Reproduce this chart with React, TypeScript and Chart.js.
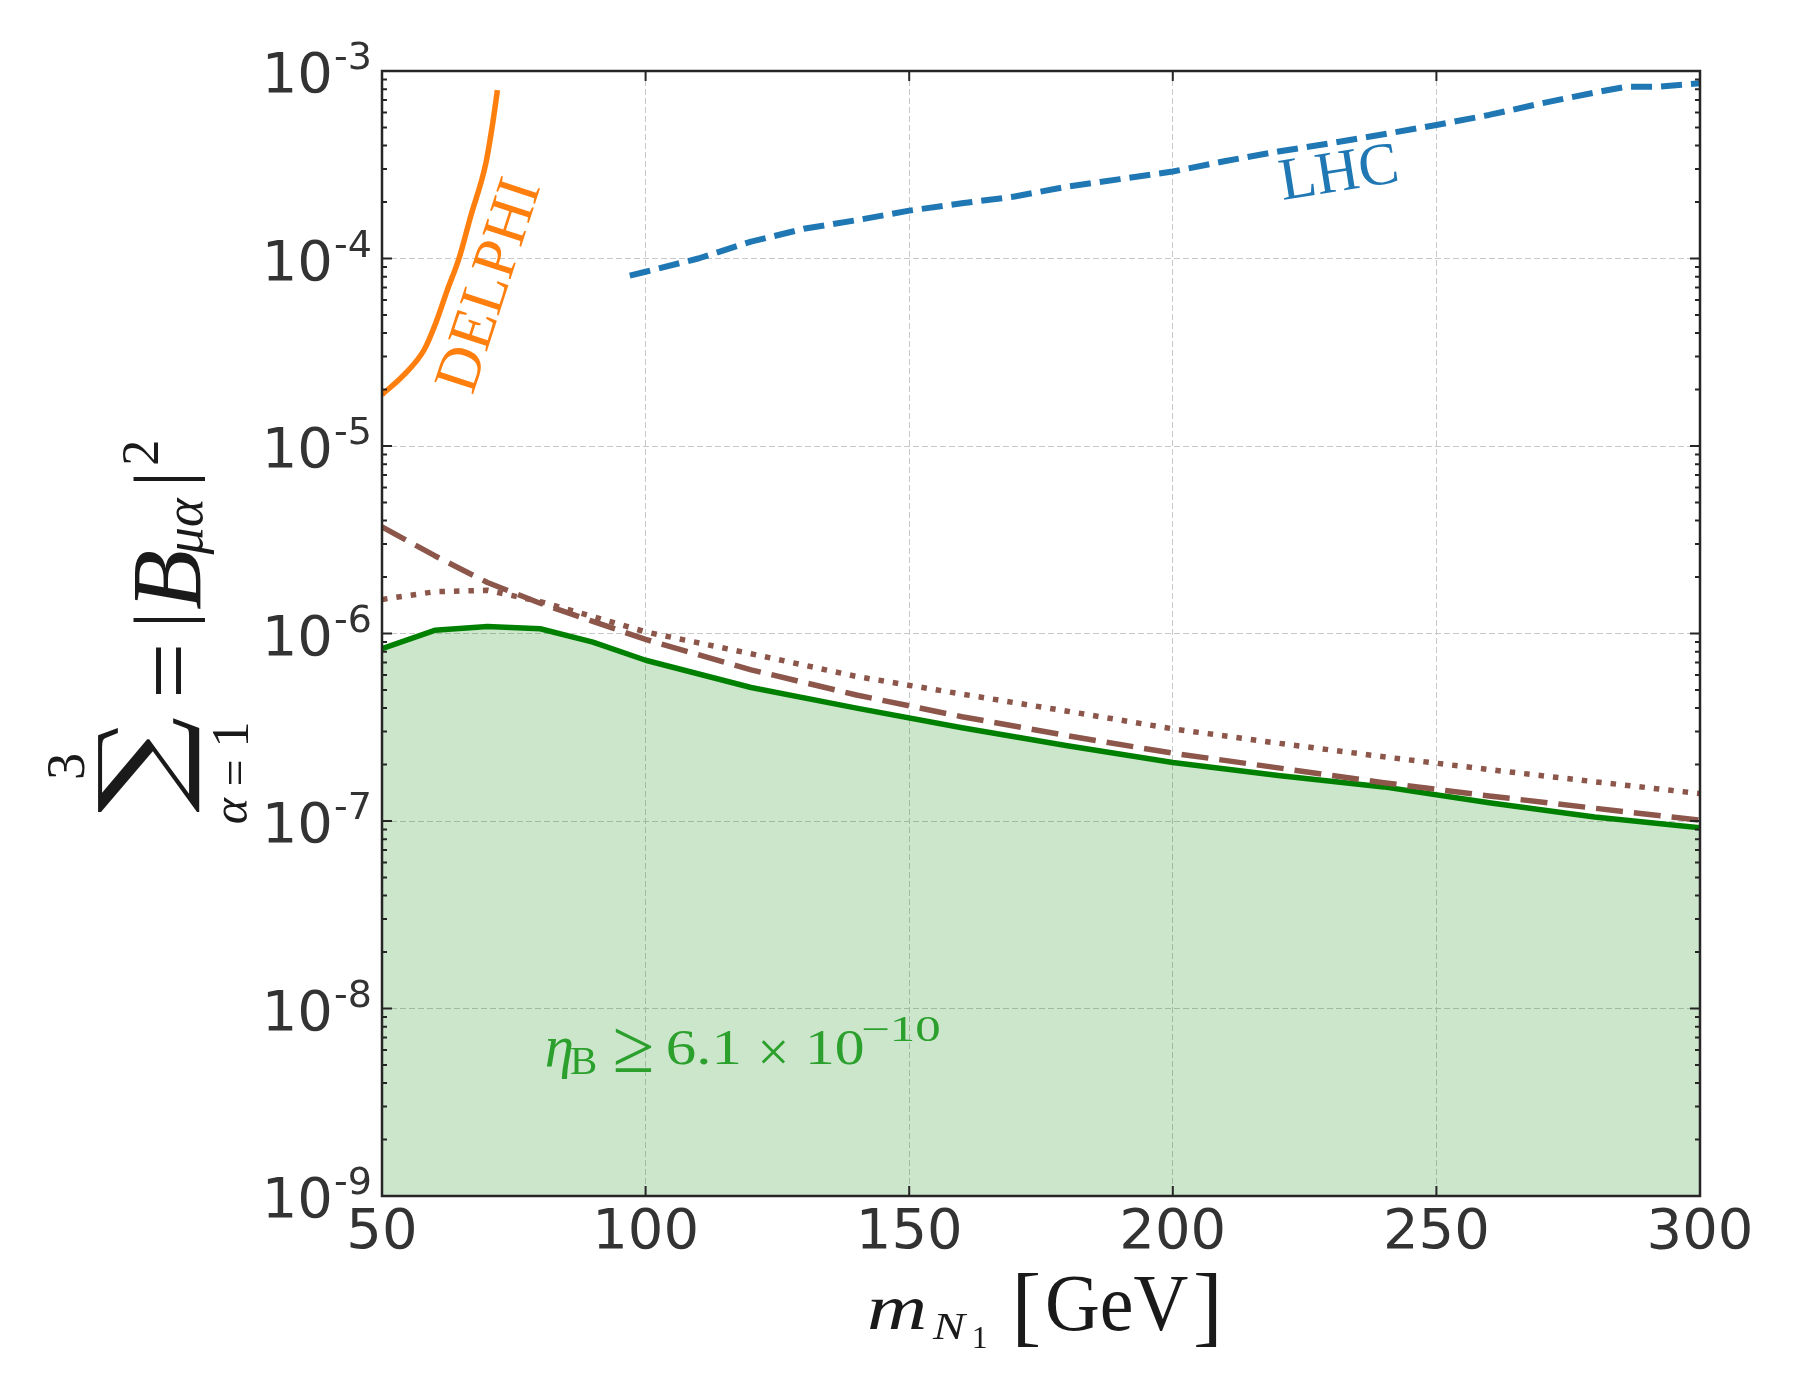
import React, { useEffect, useRef } from 'react';
import { Chart, registerables } from 'chart.js';

Chart.register(...registerables);

// heavy neutrino mass grid [GeV] shared by the leptogenesis curves
const massGrid = [50, 60, 70, 80, 90, 100, 120, 140, 160, 180, 200, 220, 240, 260, 280, 300];
const etaBoundary = [8.3e-7, 1.04e-6, 1.09e-6, 1.06e-6, 9.0e-7, 7.2e-7, 5.15e-7, 4.0e-7, 3.14e-7, 2.52e-7, 2.05e-7, 1.75e-7, 1.52e-7, 1.25e-7, 1.05e-7, 9.2e-8];
const brownDashed = [3.7e-6, 2.6e-6, 1.87e-6, 1.45e-6, 1.16e-6, 9.3e-7, 6.4e-7, 4.7e-7, 3.6e-7, 2.85e-7, 2.3e-7, 1.92e-7, 1.6e-7, 1.36e-7, 1.17e-7, 1.01e-7];
const brownDotted = [1.52e-6, 1.67e-6, 1.7e-6, 1.48e-6, 1.23e-6, 1.02e-6, 7.8e-7, 5.9e-7, 4.75e-7, 3.85e-7, 3.1e-7, 2.6e-7, 2.2e-7, 1.88e-7, 1.62e-7, 1.4e-7];

// LHC bound
const lhcMass = [97, 100, 110, 120, 130, 140, 150, 160, 170, 180, 190, 200, 210, 220, 230, 240, 250, 260, 270, 280, 286, 292, 300];
const lhcBound = [8.1e-5, 8.5e-5, 1.0e-4, 1.23e-4, 1.44e-4, 1.6e-4, 1.8e-4, 1.97e-4, 2.14e-4, 2.42e-4, 2.65e-4, 2.91e-4, 3.31e-4, 3.72e-4, 4.12e-4, 4.6e-4, 5.15e-4, 5.83e-4, 6.73e-4, 7.67e-4, 8.25e-4, 8.25e-4, 8.6e-4];

// DELPHI bound
const delphiMass = [50, 54.2, 58, 60.2, 62.4, 64.6, 66.8, 69.7, 70.9, 71.9];
const delphiBound = [1.88e-5, 2.4e-5, 3.26e-5, 4.53e-5, 6.8e-5, 1.0e-4, 1.67e-4, 3.22e-4, 5.05e-4, 7.9e-4];

const xTicks = [50, 100, 150, 200, 250, 300];
const yExponents = [-9, -8, -7, -6, -5, -4, -3];
const yMinorFactors = [2, 3, 4, 5, 6, 7, 8, 9];

const INK = '#262626';
const TICK_TEXT = '#333333';
const GRID = '#c8c8c8';
const SERIF = '"Liberation Serif", "DejaVu Serif", serif';
const SANS = '"DejaVu Sans", sans-serif';

const pts = (xs: number[], ys: number[]) => xs.map((x, i) => ({ x, y: ys[i] }));

type Fit = { h?: number; w?: number; angle?: number };

// draws text with its ink box centred on (cx, cy), optionally scaled to a height/width
function putText(ctx: CanvasRenderingContext2D, text: string, font: string, cx: number, cy: number, fit: Fit = {}) {
  ctx.save();
  ctx.font = font;
  ctx.textAlign = 'left';
  ctx.textBaseline = 'alphabetic';
  const m = ctx.measureText(text);
  const bw = m.actualBoundingBoxLeft + m.actualBoundingBoxRight;
  const bh = m.actualBoundingBoxAscent + m.actualBoundingBoxDescent;
  let sx = 1;
  let sy = 1;
  if (fit.h && fit.w) { sx = fit.w / bw; sy = fit.h / bh; }
  else if (fit.h) { sx = sy = fit.h / bh; }
  else if (fit.w) { sx = sy = fit.w / bw; }
  ctx.translate(cx, cy);
  ctx.rotate(fit.angle || 0);
  ctx.scale(sx, sy);
  ctx.fillText(text, (m.actualBoundingBoxLeft - m.actualBoundingBoxRight) / 2, (m.actualBoundingBoxAscent - m.actualBoundingBoxDescent) / 2);
  ctx.restore();
}

const framePlugin = {
  id: 'frame',
  afterDraw(chart: any) {
    const { ctx, chartArea: a, scales } = chart;
    const x = scales.x;
    const y = scales.y;
    ctx.save();

    // inward ticks
    ctx.strokeStyle = INK;
    ctx.lineWidth = 2;
    ctx.beginPath();
    xTicks.forEach((v) => {
      const px = x.getPixelForValue(v);
      ctx.moveTo(px, a.bottom); ctx.lineTo(px, a.bottom - 10);
      ctx.moveTo(px, a.top); ctx.lineTo(px, a.top + 10);
    });
    yExponents.forEach((e) => {
      const py = y.getPixelForValue(Math.pow(10, e));
      ctx.moveTo(a.left, py); ctx.lineTo(a.left + 10, py);
      ctx.moveTo(a.right, py); ctx.lineTo(a.right - 10, py);
    });
    yExponents.slice(0, -1).forEach((e) => {
      yMinorFactors.forEach((k) => {
        const py = y.getPixelForValue(k * Math.pow(10, e));
        ctx.moveTo(a.left, py); ctx.lineTo(a.left + 5, py);
        ctx.moveTo(a.right, py); ctx.lineTo(a.right - 5, py);
      });
    });
    ctx.stroke();

    // spines
    ctx.lineWidth = 2.5;
    ctx.strokeRect(a.left, a.top, a.right - a.left, a.bottom - a.top);

    // tick labels
    ctx.fillStyle = TICK_TEXT;
    ctx.textBaseline = 'alphabetic';
    ctx.font = `56px ${SANS}`;
    ctx.textAlign = 'center';
    xTicks.forEach((v) => ctx.fillText(String(v), x.getPixelForValue(v), a.bottom + 52));
    yExponents.forEach((e) => {
      const py = y.getPixelForValue(Math.pow(10, e));
      ctx.font = `56px ${SANS}`;
      ctx.textAlign = 'right';
      ctx.fillText('10', a.left - 49, py + 21);
      ctx.font = `38px ${SANS}`;
      ctx.textAlign = 'left';
      ctx.fillText(String(e), a.left - 48, py - 2);
    });

    // curve labels
    ctx.fillStyle = '#ff7f0e';
    putText(ctx, 'DELPHI', `62px ${SERIF}`, x.getPixelForValue(70), y.getPixelForValue(7.2e-5), { angle: -72 * Math.PI / 180 });
    ctx.fillStyle = '#1f77b4';
    putText(ctx, 'LHC', `60px ${SERIF}`, x.getPixelForValue(231.3), y.getPixelForValue(2.89e-4), { angle: -9 * Math.PI / 180 });

    // eta_B >= 6.1 x 10^-10
    const ex = x.getPixelForValue(80.2);
    const ey = y.getPixelForValue(5.0e-9);
    ctx.fillStyle = '#2ca02c';
    putText(ctx, 'η', `italic 100px ${SERIF}`, ex + 18, ey - 7, { h: 40 });
    putText(ctx, 'B', `100px ${SERIF}`, ex + 42, ey - 4, { h: 27 });
    putText(ctx, '≥', `100px ${SERIF}`, ex + 92, ey - 15, { h: 44 });
    putText(ctx, '6.1', `100px ${SERIF}`, ex + 162, ey - 17.5, { h: 35, w: 70 });
    putText(ctx, '×', `100px ${SERIF}`, ex + 232, ey - 13, { h: 24 });
    putText(ctx, '10', `100px ${SERIF}`, ex + 295, ey - 17.5, { h: 35, w: 53 });
    putText(ctx, '−10', `100px ${SERIF}`, ex + 360, ey - 35, { w: 76, h: 24 });

    // x axis title
    ctx.fillStyle = '#1a1a1a';
    putText(ctx, 'm', `italic 100px ${SERIF}`, 897, 1315, { w: 55, h: 30 });
    putText(ctx, 'N', `italic 100px ${SERIF}`, 950, 1327, { w: 35, h: 25 });
    putText(ctx, '1', `100px ${SERIF}`, 980, 1337, { h: 21 });
    putText(ctx, '[', `100px ${SERIF}`, 1028, 1310, { h: 74 });
    putText(ctx, 'GeV', `100px ${SERIF}`, 1118, 1305, { w: 140, h: 54 });
    putText(ctx, ']', `100px ${SERIF}`, 1206, 1310, { h: 74 });

    // y axis title, rotated
    ctx.save();
    ctx.translate(200, 825);
    ctx.rotate(-Math.PI / 2);
    putText(ctx, 'α', `italic 100px ${SERIF}`, 15, 35, { h: 24 });
    putText(ctx, '=', `100px ${SERIF}`, 52, 35, { w: 23 });
    putText(ctx, '1', `100px ${SERIF}`, 91, 30, { h: 35 });
    putText(ctx, '∑', `100px "DejaVu Serif", serif`, 60, -51, { w: 96, h: 102 });
    putText(ctx, '3', `100px ${SERIF}`, 59, -133, { h: 37 });
    putText(ctx, '=', `100px ${SERIF}`, 154, -32, { w: 48 });
    putText(ctx, '|', `100px ${SERIF}`, 205, -31, { h: 71 });
    putText(ctx, 'B', `italic 100px ${SERIF}`, 244, -32, { h: 65 });
    putText(ctx, 'μα', `italic 100px ${SERIF}`, 299, -5, { w: 58 });
    putText(ctx, '|', `100px ${SERIF}`, 346, -31, { h: 71 });
    putText(ctx, '2', `100px ${SERIF}`, 372, -59, { h: 35 });
    ctx.restore();

    ctx.restore();
  },
};

export default function App() {
  const canvasRef = useRef<HTMLCanvasElement>(null);
  const chartRef = useRef<Chart | null>(null);

  useEffect(() => {
    document.body.style.margin = '0';
    if (!canvasRef.current) return;
    if (chartRef.current) chartRef.current.destroy();

    chartRef.current = new Chart(canvasRef.current, {
      type: 'line',
      data: {
        datasets: [
          { label: 'LHC', data: pts(lhcMass, lhcBound), borderColor: '#1f77b4', borderWidth: 6, borderDash: [21, 9] },
          { label: 'DELPHI', data: pts(delphiMass, delphiBound), borderColor: '#ff7f0e', borderWidth: 5.5, cubicInterpolationMode: 'monotone' },
          { label: 'dotted', data: pts(massGrid, brownDotted), borderColor: '#8c564b', borderWidth: 5.5, borderDash: [5.5, 9] },
          { label: 'dashed', data: pts(massGrid, brownDashed), borderColor: '#8c564b', borderWidth: 5.5, borderDash: [27, 11] },
          {
            label: 'eta',
            data: pts(massGrid, etaBoundary),
            borderColor: '#008000',
            borderWidth: 5.5,
            fill: 'start',
            backgroundColor: 'rgba(0,128,0,0.2)',
          },
        ],
      },
      options: {
        responsive: false,
        animation: false,
        layout: { padding: { left: 382, top: 71, right: 100, bottom: 204 } },
        elements: {
          point: { radius: 0 },
          line: { tension: 0, borderCapStyle: 'butt', borderJoinStyle: 'round', fill: false },
        },
        plugins: { legend: { display: false }, tooltip: { enabled: false } },
        scales: {
          x: {
            type: 'linear',
            min: 50,
            max: 300,
            afterBuildTicks: (s: any) => { s.ticks = xTicks.map((v) => ({ value: v })); },
            afterFit: (s: any) => { s.height = 0; },
            ticks: { display: false },
            grid: { color: GRID, lineWidth: 1, drawTicks: false },
            border: { display: false, dash: [6, 3] },
          },
          y: {
            type: 'logarithmic',
            min: 1e-9,
            max: 1e-3,
            afterBuildTicks: (s: any) => { s.ticks = yExponents.map((e) => ({ value: Math.pow(10, e) })); },
            afterFit: (s: any) => { s.width = 0; },
            ticks: { display: false },
            grid: { color: GRID, lineWidth: 1, drawTicks: false },
            border: { display: false, dash: [6, 3] },
          },
        },
      },
      plugins: [framePlugin],
    });

    return () => {
      if (chartRef.current) {
        chartRef.current.destroy();
        chartRef.current = null;
      }
    };
  }, []);

  return (
    <div style={{ width: '1800px', height: '1400px', background: '#ffffff' }}>
      <canvas ref={canvasRef} width={1800} height={1400} style={{ display: 'block' }} />
    </div>
  );
}
